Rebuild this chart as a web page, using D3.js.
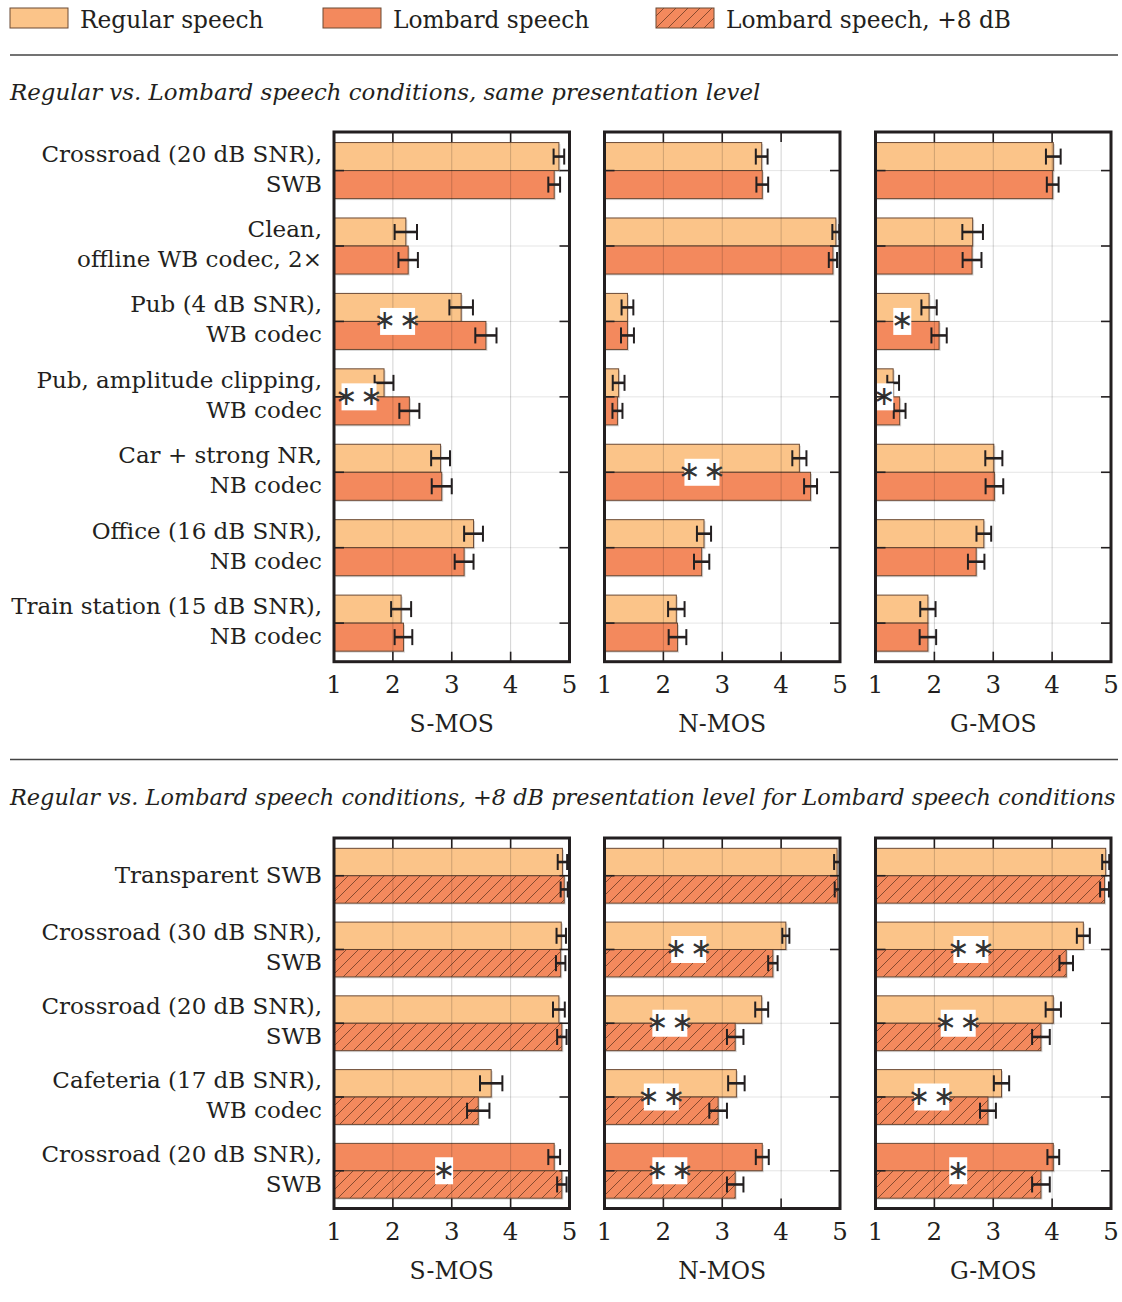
<!DOCTYPE html>
<html lang="en">
<head>
<meta charset="utf-8">
<title>Regular vs. Lombard speech</title>
<script src="https://cdnjs.cloudflare.com/ajax/libs/d3/7.8.5/d3.min.js"></script>
<style>
  body { margin: 0; background: #fff; }
  svg text { font-family: "DejaVu Serif", serif; fill: #231f20; }
</style>
</head>
<body>
<svg id="chart" width="1122" height="1302"></svg>
<script>
// ---- data ----
var legendLabels = ["Regular speech", "Lombard speech", "Lombard speech, +8 dB"];
var measures = ["S-MOS", "N-MOS", "G-MOS"];
var xTicks = [1, 2, 3, 4, 5];
var sectionTitles = [
  "Regular vs. Lombard speech conditions, same presentation level",
  "Regular vs. Lombard speech conditions, +8 dB presentation level for Lombard speech conditions"
];

// upper block, rows in order S-MOS, N-MOS, G-MOS
var topConditions = [
  ["Crossroad (20 dB SNR),", "SWB"],
  ["Clean,", "offline WB codec, 2\u00d7"],
  ["Pub (4 dB SNR),", "WB codec"],
  ["Pub, amplitude clipping,", "WB codec"],
  ["Car + strong NR,", "NB codec"],
  ["Office (16 dB SNR),", "NB codec"],
  ["Train station (15 dB SNR),", "NB codec"]
];
var topRegular = [
  [4.82, 2.22, 3.16, 1.85, 2.81, 3.37, 2.14],
  [3.67, 4.93, 1.39, 1.24, 4.31, 2.69, 2.22],
  [4.02, 2.65, 1.91, 1.30, 3.01, 2.84, 1.89]
];
var topRegularErr = [
  [0.09, 0.19, 0.20, 0.16, 0.16, 0.16, 0.17],
  [0.10, 0.06, 0.10, 0.10, 0.12, 0.12, 0.14],
  [0.125, 0.175, 0.13, 0.10, 0.145, 0.125, 0.13]
];
var topLombard = [
  [4.74, 2.26, 3.58, 2.28, 2.83, 3.21, 2.18],
  [3.68, 4.88, 1.39, 1.22, 4.50, 2.65, 2.24],
  [4.01, 2.64, 2.08, 1.41, 3.02, 2.71, 1.89]
];
var topLombardErr = [
  [0.10, 0.165, 0.18, 0.17, 0.17, 0.16, 0.15],
  [0.10, 0.07, 0.11, 0.085, 0.11, 0.13, 0.15],
  [0.10, 0.16, 0.13, 0.10, 0.15, 0.14, 0.14]
];
var topSig = [
  ["", "", "**", "**", "", "", ""],
  ["", "", "", "", "**", "", ""],
  ["", "", "*", "*", "", "", ""]
];

// lower block
var bottomConditions = [
  ["Transparent SWB"],
  ["Crossroad (30 dB SNR),", "SWB"],
  ["Crossroad (20 dB SNR),", "SWB"],
  ["Cafeteria (17 dB SNR),", "WB codec"],
  ["Crossroad (20 dB SNR),", "SWB"]
];
var bottomFirstType = ["regular", "regular", "regular", "regular", "lombard"];
var bottomFirst = [
  [4.88, 4.86, 4.82, 3.67, 4.74],
  [4.95, 4.08, 3.67, 3.24, 3.68],
  [4.91, 4.53, 4.02, 3.14, 4.02]
];
var bottomFirstErr = [
  [0.08, 0.08, 0.10, 0.19, 0.10],
  [0.05, 0.06, 0.11, 0.14, 0.11],
  [0.06, 0.11, 0.13, 0.13, 0.10]
];
var bottomLouder = [
  [4.91, 4.85, 4.87, 3.45, 4.87],
  [4.96, 3.86, 3.22, 2.93, 3.22],
  [4.89, 4.24, 3.81, 2.91, 3.81]
];
var bottomLouderErr = [
  [0.06, 0.08, 0.08, 0.19, 0.08],
  [0.05, 0.08, 0.14, 0.15, 0.14],
  [0.075, 0.115, 0.15, 0.135, 0.15]
];
var bottomSig = [
  ["", "", "", "", "*"],
  ["", "**", "**", "**", "**"],
  ["", "**", "**", "**", "*"]
];

// ---- drawing ----
var ink = "#231f20";
var colors = { regular: "#fbc489", lombard: "#f3895d", louder: "#f3895d" };
var barStroke = "#6b4a35";
var panelX = [334, 604.5, 875.5];
var panelW = 235.5;

var svg = d3.select("#chart");
svg.append("rect").attr("width", 1122).attr("height", 1302).attr("fill", "#fff");

var defs = svg.append("defs");
var pat = defs.append("pattern")
  .attr("id", "hatch")
  .attr("patternUnits", "userSpaceOnUse")
  .attr("width", 12).attr("height", 12);
pat.append("rect").attr("width", 12).attr("height", 12).attr("fill", colors.louder);
pat.append("path")
  .attr("d", "M-3,15 L15,-3 M-3,3 L3,-3 M9,15 L15,9")
  .attr("stroke", "#6b3a22").attr("stroke-width", 0.8);

function fillFor(type) {
  return type == "louder" ? "url(#hatch)" : colors[type];
}

// legend
var legendX = [10, 323, 656];
legendLabels.forEach(function(lab, i) {
  var t = ["regular", "lombard", "louder"][i];
  svg.append("rect")
    .attr("x", legendX[i]).attr("y", 8).attr("width", 58).attr("height", 20)
    .attr("fill", fillFor(t)).attr("stroke", barStroke).attr("stroke-width", 1);
  svg.append("text")
    .attr("x", legendX[i] + 70).attr("y", 28)
    .attr("font-size", 23.3).text(lab);
});

// rules + section titles
var titleSizes = [22.9, 22.4];
[55, 759.5].forEach(function(y, i) {
  svg.append("line").attr("x1", 10).attr("x2", 1118).attr("y1", y).attr("y2", y)
    .attr("stroke", "#444").attr("stroke-width", 1.5);
  svg.append("text")
    .attr("x", 10).attr("y", y + 45)
    .attr("font-size", titleSizes[i]).attr("font-style", "italic")
    .text(sectionTitles[i]);
});

function drawSection(conditions, rowsOf, sigs, top, bottom) {
  var y = d3.scaleBand()
    .domain(d3.range(conditions.length))
    .range([top, bottom])
    .paddingInner(0.257)
    .paddingOuter(0.14);
  var bh = y.bandwidth() / 2;

  // category labels
  conditions.forEach(function(lines, i) {
    var gc = y(i) + bh;
    var t = svg.append("text").attr("text-anchor", "end").attr("font-size", 23);
    if (lines.length == 1) {
      t.append("tspan").attr("x", 322).attr("y", gc + 7).text(lines[0]);
    } else {
      t.append("tspan").attr("x", 322).attr("y", gc - 9).text(lines[0]);
      t.append("tspan").attr("x", 322).attr("y", gc + 21).text(lines[1]);
    }
  });

  measures.forEach(function(m, k) {
    var x = d3.scaleLinear().domain([1, 5]).range([panelX[k], panelX[k] + panelW]);
    var g = svg.append("g");
    var rows = rowsOf(k);

    rows.forEach(function(pair, i) {
      pair.forEach(function(b, j) {
        var by = y(i) + j * bh;
        g.append("rect")
          .attr("x", x(1) + 1.5).attr("y", by + 1.5)
          .attr("width", x(b.v) - x(1)).attr("height", bh)
          .attr("fill", "#bdbdbd").attr("opacity", 0.6);
        g.append("rect")
          .attr("x", x(1)).attr("y", by)
          .attr("width", x(b.v) - x(1)).attr("height", bh)
          .attr("fill", fillFor(b.type))
          .attr("stroke", barStroke).attr("stroke-width", 1);
      });
    });

    // grid drawn over the bars, faint
    var grid = svg.append("g").attr("stroke", "#000").attr("stroke-opacity", 0.18).attr("stroke-width", 1);
    [2, 3, 4].forEach(function(v) {
      grid.append("line").attr("x1", x(v)).attr("x2", x(v)).attr("y1", top).attr("y2", bottom);
    });
    conditions.forEach(function(c, i) {
      grid.append("line").attr("x1", x(1)).attr("x2", x(5))
        .attr("y1", y(i) + bh).attr("y2", y(i) + bh)
        .attr("stroke-opacity", 0.1);
    });

    // error bars
    var eb = svg.append("g").attr("stroke", ink);
    rows.forEach(function(pair, i) {
      pair.forEach(function(b, j) {
        var cy = y(i) + j * bh + bh / 2;
        var x0 = x(Math.max(1, b.v - b.e)), x1 = x(Math.min(5, b.v + b.e));
        eb.append("line").attr("x1", x0).attr("x2", x1).attr("y1", cy).attr("y2", cy).attr("stroke-width", 2.6);
        eb.append("line").attr("x1", x0).attr("x2", x0).attr("y1", cy - 8).attr("y2", cy + 8).attr("stroke-width", 2);
        eb.append("line").attr("x1", x1).attr("x2", x1).attr("y1", cy - 8).attr("y2", cy + 8).attr("stroke-width", 2);
      });
    });

    // significance markers
    rows.forEach(function(pair, i) {
      var s = sigs[k][i];
      if (!s) return;
      var mid = x((1 + Math.min(pair[0].v, pair[1].v)) / 2);
      var cy = y(i) + bh;
      var w = s.length == 2 ? 35 : 18;
      svg.append("rect").attr("x", mid - w / 2).attr("y", cy - 13.5)
        .attr("width", w).attr("height", 27).attr("fill", "#fff");
      svg.append("text").attr("x", mid).attr("y", cy + 8)
        .attr("text-anchor", "middle").attr("font-size", 27)
        .style("font-family", "DejaVu Sans")
        .style("fill", "#333")
        .text(s.length == 2 ? "\u2217\u200a\u2217" : "\u2217");
    });

    // frame and inward ticks
    var fr = svg.append("g").attr("stroke", ink).attr("fill", "none");
    fr.append("rect").attr("x", x(1)).attr("y", top).attr("width", panelW).attr("height", bottom - top)
      .attr("stroke-width", 3);
    [2, 3, 4].forEach(function(v) {
      fr.append("line").attr("x1", x(v)).attr("x2", x(v)).attr("y1", top).attr("y2", top + 10).attr("stroke-width", 1.6);
      fr.append("line").attr("x1", x(v)).attr("x2", x(v)).attr("y1", bottom).attr("y2", bottom - 10).attr("stroke-width", 1.6);
    });
    conditions.forEach(function(c, i) {
      var cy = y(i) + bh;
      fr.append("line").attr("x1", x(1)).attr("x2", x(1) + 10).attr("y1", cy).attr("y2", cy).attr("stroke-width", 1.6);
      fr.append("line").attr("x1", x(5)).attr("x2", x(5) - 10).attr("y1", cy).attr("y2", cy).attr("stroke-width", 1.6);
    });

    // tick labels and axis title
    xTicks.forEach(function(v) {
      svg.append("text").attr("x", x(v)).attr("y", bottom + 31)
        .attr("text-anchor", "middle").attr("font-size", 24.5).text(v);
    });
    svg.append("text").attr("x", (x(1) + x(5)) / 2).attr("y", bottom + 70)
      .attr("text-anchor", "middle").attr("font-size", 23.5).text(m);
  });
}

drawSection(topConditions, function(k) {
  return topConditions.map(function(c, i) {
    return [
      { v: topRegular[k][i], e: topRegularErr[k][i], type: "regular" },
      { v: topLombard[k][i], e: topLombardErr[k][i], type: "lombard" }
    ];
  });
}, topSig, 132, 661.7);

drawSection(bottomConditions, function(k) {
  return bottomConditions.map(function(c, i) {
    return [
      { v: bottomFirst[k][i], e: bottomFirstErr[k][i], type: bottomFirstType[i] },
      { v: bottomLouder[k][i], e: bottomLouderErr[k][i], type: "louder" }
    ];
  });
}, bottomSig, 838, 1208.5);
</script>
</body>
</html>
